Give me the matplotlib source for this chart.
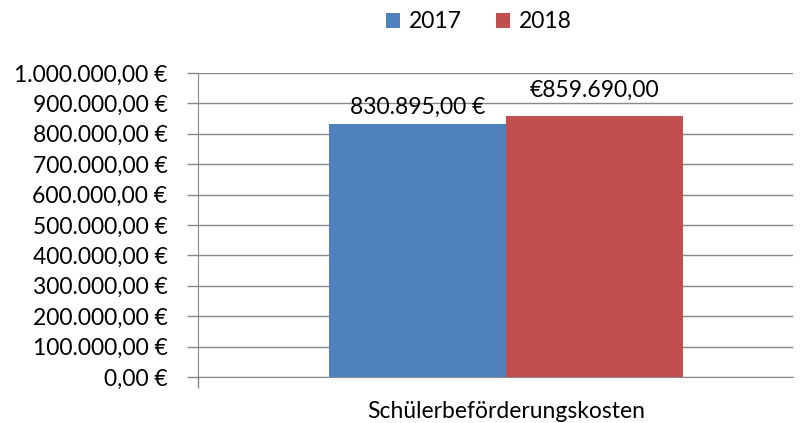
import numpy as np
import matplotlib.pyplot as plt
from matplotlib.ticker import FuncFormatter

# Kosten je Jahr
jahre = ['2017', '2018']
kosten = [830895.00, 859690.00]
kategorie = 'Schülerbeförderungskosten'
wert_labels = ['830.895,00 €', '€859.690,00']
farben = ['#4f81bd', '#c0504d']

plt.rcParams['font.family'] = ['Lato', 'DejaVu Sans']
gr = 16.5

def euro(v, pos):
    s = '{:,.2f}'.format(v).replace(',', 'X').replace('.', ',').replace('X', '.')
    return s + ' €'

fig = plt.figure(figsize=(8.03, 4.23), dpi=100)
ax = fig.add_axes([0.2466, 0.1087, 0.741, 0.7187])

breite = 0.2975
pos = [-breite / 2, breite / 2]
abstand = [20000, 48000]
for i in range(len(jahre)):
    ax.bar(pos[i], kosten[i], width=breite, color=farben[i], label=jahre[i], zorder=3)
    ax.text(pos[i], kosten[i] + abstand[i], wert_labels[i], ha='center', va='bottom',
            fontsize=gr, zorder=4)

ax.set_xlim(-0.5176, 0.4824)
ax.set_ylim(0, 1000000)
ax.set_yticks(np.arange(0, 1000001, 100000))
ax.yaxis.set_major_formatter(FuncFormatter(euro))
ax.set_xticks([0])
ax.set_xticklabels([kategorie], fontsize=gr)
ax.tick_params(axis='x', length=0, pad=17)
ax.set_xticks([-0.5176], minor=True)
ax.tick_params(axis='x', which='minor', length=8, color='#898989', width=1)
ax.tick_params(axis='y', length=8, color='#898989', width=1, labelsize=gr, pad=14)
ax.grid(axis='y', color='#898989', linewidth=1, zorder=0)

for s in ['top', 'right']:
    ax.spines[s].set_visible(False)
ax.spines['left'].set_color('#898989')
ax.spines['bottom'].set_color('#898989')

ax.legend(loc='center', bbox_to_anchor=(0.472, 1.168), ncol=2, frameon=False,
          fontsize=gr, handlelength=0.6, handleheight=0.6, handletextpad=0.4,
          columnspacing=1.5)

plt.savefig('out.png', dpi=100)
